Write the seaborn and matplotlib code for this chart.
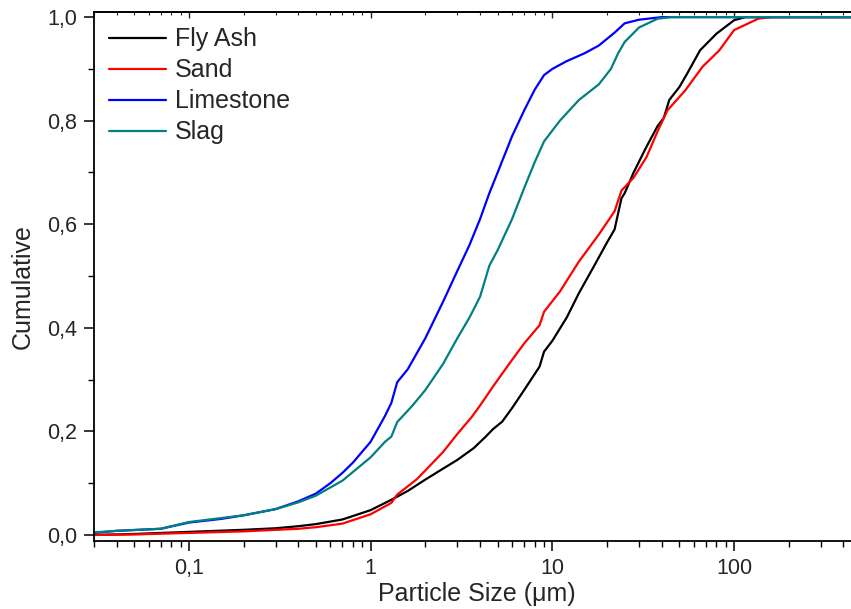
import numpy as np
import pandas as pd
import matplotlib
matplotlib.use("Agg")
import matplotlib.pyplot as plt
import seaborn as sns
from matplotlib.ticker import FixedLocator, FuncFormatter, LogLocator, NullFormatter

# ---- data ----
fly_ash_x = [0.03, 0.05, 0.1, 0.2, 0.3, 0.4, 0.5, 0.7, 1.0, 1.3, 1.6, 2.0, 2.5, 3.0, 3.7, 4.3, 4.7, 5.3,
             6.0, 7.0, 8.5, 9.0, 10, 12, 14, 17, 20, 22, 24, 25, 28, 33, 38, 41, 44, 50, 55, 65, 80,
             100, 115, 500]
fly_ash_y = [0.0, 0.002, 0.006, 0.010, 0.013, 0.017, 0.021, 0.030, 0.048, 0.068, 0.085, 0.107, 0.128,
             0.145, 0.168, 0.19, 0.204, 0.219, 0.245, 0.28, 0.325, 0.354, 0.375, 0.42, 0.467, 0.52,
             0.565, 0.59, 0.65, 0.66, 0.70, 0.75, 0.79, 0.805, 0.84, 0.865, 0.89, 0.936, 0.968,
             0.994, 1.0, 1.0]

sand_x = [0.03, 0.05, 0.1, 0.2, 0.4, 0.5, 0.7, 1.0, 1.3, 1.4, 1.8, 2.5, 3.0, 3.6, 4.0, 4.7, 5.8, 7.0,
          8.5, 9.0, 11, 14, 18, 22, 24, 28, 33, 38, 43, 54, 67, 83, 100, 120, 136, 160, 500]
sand_y = [0.0, 0.001, 0.004, 0.007, 0.012, 0.015, 0.022, 0.040, 0.062, 0.078, 0.108, 0.16, 0.195,
          0.228, 0.25, 0.286, 0.331, 0.37, 0.405, 0.431, 0.47, 0.528, 0.58, 0.625, 0.665, 0.69,
          0.73, 0.78, 0.82, 0.859, 0.904, 0.936, 0.975, 0.988, 0.997, 1.0, 1.0]

limestone_x = [0.03, 0.04, 0.07, 0.1, 0.15, 0.2, 0.3, 0.4, 0.5, 0.6, 0.7, 0.8, 1.0, 1.2, 1.3, 1.4,
               1.6, 2.0, 2.5, 3.0, 3.5, 4.0, 4.5, 5.0, 6.0, 7.0, 8.0, 9.0, 10, 12, 15, 18, 22, 25,
               30, 40, 500]
limestone_y = [0.004, 0.008, 0.012, 0.024, 0.031, 0.038, 0.05, 0.065, 0.08, 0.10, 0.12, 0.14, 0.18,
               0.23, 0.255, 0.295, 0.32, 0.38, 0.45, 0.51, 0.56, 0.61, 0.66, 0.70, 0.77, 0.82, 0.86,
               0.888, 0.90, 0.915, 0.93, 0.945, 0.97, 0.988, 0.995, 1.0, 1.0]

slag_x = [0.03, 0.04, 0.07, 0.1, 0.2, 0.3, 0.4, 0.5, 0.7, 1.0, 1.2, 1.3, 1.4, 1.7, 2.0, 2.5, 3.0,
          3.5, 4.0, 4.5, 5.0, 6.0, 7.0, 8.0, 9.0, 11, 14, 18, 21, 23, 25, 30, 38, 45, 500]
slag_y = [0.005, 0.008, 0.012, 0.025, 0.038, 0.05, 0.063, 0.076, 0.105, 0.15, 0.18, 0.19, 0.218,
          0.25, 0.28, 0.33, 0.38, 0.42, 0.46, 0.52, 0.55, 0.61, 0.67, 0.72, 0.76, 0.80, 0.84, 0.87,
          0.90, 0.93, 0.952, 0.98, 0.997, 1.0, 1.0]

series_names = ["Fly Ash", "Sand", "Limestone", "Slag"]
series_colors = ["#000000", "#ff0000", "#0000ff", "#008080"]
y_ticks = [0.0, 0.2, 0.4, 0.6, 0.8, 1.0]
x_ticks = [0.1, 1, 10, 100]
x_tick_labels = ["0,1", "1", "10", "100"]

frames = []
for name, xs, ys in zip(series_names,
                        [fly_ash_x, sand_x, limestone_x, slag_x],
                        [fly_ash_y, sand_y, limestone_y, slag_y]):
    frames.append(pd.DataFrame({"size": xs, "cum": ys, "material": name}))
df = pd.concat(frames, ignore_index=True)

# ---- style ----
sns.set_style("ticks")
plt.rcParams["font.family"] = ["Liberation Sans", "DejaVu Sans"]

fig = plt.figure(figsize=(8.51, 6.09), dpi=100)
W, H = 851, 609
left_px, right_px, top_px, bot_px = 93.9, 851.0, 12.3, 541.0
ax_w, ax_h = right_px - left_px, bot_px - top_px
ax = fig.add_axes([left_px / W, 1 - bot_px / H, ax_w / W, ax_h / H])

sns.lineplot(data=df, x="size", y="cum", hue="material", hue_order=series_names,
             palette=dict(zip(series_names, series_colors)), sort=False, estimator=None,
             units="material", linewidth=1.6, ax=ax, legend=True)

ax.set_xscale("log")
ax.set_xlim(0.03, 440)
ax.set_ylim(-0.0116, 1.0093)

ax.xaxis.set_major_locator(FixedLocator(x_ticks))
ax.xaxis.set_major_formatter(FuncFormatter(lambda v, p: x_tick_labels[x_ticks.index(v)] if v in x_ticks else ""))
ax.xaxis.set_minor_locator(LogLocator(base=10, subs=np.arange(2, 10), numticks=20))
ax.xaxis.set_minor_formatter(NullFormatter())

ax.yaxis.set_major_locator(FixedLocator(y_ticks))
ax.yaxis.set_minor_locator(FixedLocator([0.1, 0.3, 0.5, 0.7, 0.9]))
ax.yaxis.set_major_formatter(FuncFormatter(lambda v, p: f"{v:.1f}".replace(".", ",")))

ax.tick_params(which="major", direction="out", length=7, width=1.1, labelsize=15.5, color="black", pad=5)
ax.tick_params(which="minor", direction="out", length=4, width=1.0, color="black")

for s in ["left", "bottom", "top"]:
    ax.spines[s].set_linewidth(1.3)
    ax.spines[s].set_color("black")
ax.spines["right"].set_visible(False)

sec = ax.secondary_xaxis("top")
sec.xaxis.set_major_locator(FixedLocator(x_ticks))
sec.xaxis.set_minor_locator(LogLocator(base=10, subs=np.arange(2, 10), numticks=20))
sec.tick_params(which="major", direction="in", length=4, width=1.0, labeltop=False)
sec.tick_params(which="minor", direction="in", length=2.5, width=0.8, labeltop=False)
sec.spines["top"].set_linewidth(1.3)

ax.set_xlabel("Particle Size (μm)", fontsize=18)
ax.set_ylabel("Cumulative", fontsize=18)
ax.xaxis.set_label_coords((477 - left_px) / ax_w, (bot_px - 582) / ax_h)
ax.yaxis.set_label_coords((35 - left_px) / ax_w, (bot_px - 287) / ax_h)

leg = ax.legend(loc="upper left", bbox_to_anchor=(0.0, 1.0), frameon=False, fontsize=18,
                handlelength=2.3, handletextpad=0.35, labelspacing=0.28, borderaxespad=0.3,
                borderpad=0.3)
for line in leg.get_lines():
    line.set_linewidth(1.6)

fig.savefig("out.png", dpi=100)
